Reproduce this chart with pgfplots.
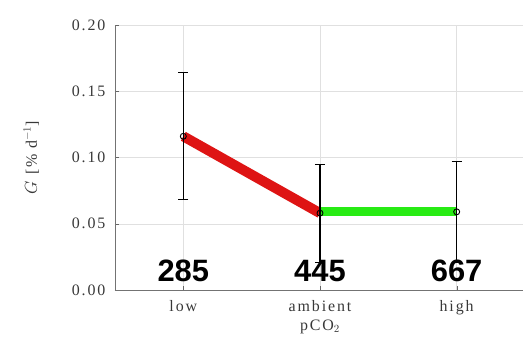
\documentclass[border=0pt]{standalone}
\usepackage{fontspec}
\setmainfont{Liberation Serif}
\newfontfamily\tickfont[LetterSpace=12]{Liberation Serif}
\newfontfamily\numfont{Liberation Sans}
\usepackage{pgfplots}
\pgfplotsset{compat=1.18}
\definecolor{myred}{RGB}{222,20,20}
\definecolor{mygreen}{RGB}{40,235,20}
\begin{document}
\begin{tikzpicture}[x=1bp,y=1bp]
\begin{axis}[
  at={(0,0)}, anchor=south west,
  scale only axis, width=410bp, height=265bp,
  xmin=-0.5, xmax=2.5, ymin=0, ymax=0.20,
  xtick={0,1,2}, xticklabels={low,ambient,high},
  ytick={0,0.05,0.10,0.15,0.20},
  yticklabel style={xshift=-6bp, /pgf/number format/.cd,fixed,fixed zerofill,precision=2},
  xticklabel style={yshift=-7bp},
  /pgf/number format/assume math mode=true,
  tick label style={font=\tickfont\fontsize{16}{17}\selectfont, color=black!78},
  label style={font=\tickfont\fontsize{16}{17}\selectfont, color=black!78},
  xlabel={pCO$_2$}, ylabel={$G$ [\% d$^{-1}$]},
  xlabel style={yshift=2bp}, ylabel style={yshift=26bp},
  grid=major, grid style={black!12},
  axis line style={black!55},
  tick style={black!60},
  separate axis lines,
  axis x line*=bottom, axis y line*=left,
  clip=false,
]
\addplot[line width=10bp, myred] coordinates {(0,0.116) (1,0.058)};
\addplot[line width=9bp, mygreen] coordinates {(1,0.059) (2,0.059)};
\addplot[black, line width=1.2bp, only marks, mark=o, mark size=3bp, mark options={line width=0.9bp},
  error bars/.cd, y dir=both, y explicit,
  error mark options={rotate=90, black, mark size=5bp, line width=1bp},
  error bar style={line width=1.2bp, black}]
  coordinates {(0,0.116) +- (0,0.048) (1,0.058) +- (0,0.037) (2,0.059) +- (0,0.038)};
\node[font=\numfont\bfseries\fontsize{31}{32}\selectfont, anchor=south, inner sep=1bp] at (axis cs:0,0.005) {285};
\node[font=\numfont\bfseries\fontsize{31}{32}\selectfont, anchor=south, inner sep=1bp] at (axis cs:1,0.005) {445};
\node[font=\numfont\bfseries\fontsize{31}{32}\selectfont, anchor=south, inner sep=1bp] at (axis cs:2,0.005) {667};
\end{axis}
\pgfresetboundingbox
\path[use as bounding box] (-115bp,-69bp) rectangle (408bp,290bp);
\end{tikzpicture}
\end{document}
